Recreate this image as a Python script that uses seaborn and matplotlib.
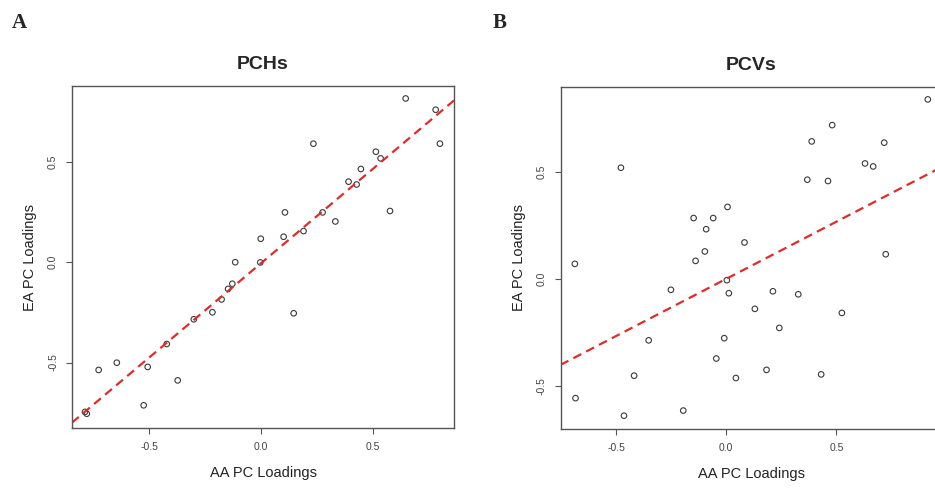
import matplotlib
matplotlib.use("Agg")
import matplotlib.pyplot as plt
import seaborn as sns
import pandas as pd

sns.set_style("ticks")
plt.rcParams['font.family'] = ['Liberation Sans', 'DejaVu Sans']

# PCHs loadings (AA vs EA)
pch_aa = [0.646, 0.780, 0.799, 0.234, 0.513, 0.534, 0.446, 0.391, 0.427, 0.107,
          0.275, 0.576, 0.332, 0.190, 0.101, -0.001, -0.003, -0.115, -0.128, -0.147,
          -0.176, -0.217, -0.300, -0.421, -0.644, -0.725, -0.506, -0.372, -0.524,
          -0.778, -0.786, 0.146]
pch_ea = [0.814, 0.758, 0.589, 0.589, 0.549, 0.516, 0.463, 0.400, 0.386, 0.247,
          0.247, 0.254, 0.202, 0.154, 0.126, 0.116, -0.002, -0.001, -0.108, -0.134,
          -0.186, -0.250, -0.285, -0.408, -0.501, -0.537, -0.522, -0.589, -0.713,
          -0.755, -0.746, -0.255]

# PCVs loadings (AA vs EA)
pcv_aa = [-0.478, -0.687, -0.148, -0.059, -0.091, 0.006, -0.097, -0.139, -0.251, 0.003,
          0.012, 0.915, 0.481, 0.388, 0.717, 0.630, 0.667, 0.368, 0.462, 0.083,
          0.724, 0.212, 0.327, -0.352, -0.009, -0.045, -0.418, 0.044, -0.684, -0.464,
          -0.195, 0.130, 0.525, 0.241, 0.183, 0.431]
pcv_ea = [0.519, 0.070, 0.284, 0.284, 0.232, 0.336, 0.128, 0.084, -0.051, -0.006,
          -0.067, 0.838, 0.718, 0.642, 0.636, 0.539, 0.525, 0.463, 0.457, 0.170,
          0.115, -0.058, -0.072, -0.287, -0.277, -0.372, -0.452, -0.463, -0.557, -0.639,
          -0.615, -0.140, -0.159, -0.229, -0.425, -0.446]

# fitted lines (slope, intercept)
pch_fit = (0.94, -0.006)
pcv_fit = (0.534, 0.0)

ticks = [-0.5, 0.0, 0.5]
tick_labels = ["-0.5", "0.0", "0.5"]

fig = plt.figure(figsize=(9.35, 4.91), dpi=100)
ax1 = fig.add_axes([0.077, 0.1283, 0.4086, 0.6965])
ax2 = fig.add_axes([0.5995, 0.1263, 0.4086, 0.6965])

panels = [
    (ax1, pch_aa, pch_ea, pch_fit, "PCHs", "A", (-0.844, 0.862), (-0.826, 0.876)),
    (ax2, pcv_aa, pcv_ea, pcv_fit, "PCVs", "B", (-0.752, 0.982), (-0.701, 0.896)),
]

for ax, xs, ys, fit, title, letter, xlim, ylim in panels:
    df = pd.DataFrame({"AA": xs, "EA": ys})
    sns.scatterplot(data=df, x="AA", y="EA", ax=ax, marker="o", s=16,
                    linewidth=0.8, edgecolor="#3a3a3a", legend=False)
    for coll in ax.collections:
        coll.set_facecolor("none")
    ax.set_xlim(*xlim)
    ax.set_ylim(*ylim)
    ax.axline((0, fit[1]), slope=fit[0], color="#e02b2b", linestyle=(0, (4, 2.5)),
              linewidth=1.6)
    for side in ["top", "right", "left", "bottom"]:
        ax.spines[side].set_visible(True)
        ax.spines[side].set_color("#555555")
        ax.spines[side].set_linewidth(1.0)
    ax.set_xticks(ticks)
    ax.set_xticklabels(tick_labels)
    ax.set_yticks(ticks)
    ax.set_yticklabels(tick_labels, rotation=90, va="center")
    ax.tick_params(axis="both", labelsize=7.5, length=4, width=0.8,
                   color="#555555", labelcolor="#444444", pad=6)
    ax.set_xlabel("AA PC Loadings", fontsize=10.5, labelpad=10, color="#222222")
    ax.set_ylabel("EA PC Loadings", fontsize=10.5, labelpad=8, color="#222222")
    ax.set_title(title, fontsize=14, fontweight="bold", pad=12)

fig.text(12 / 935, 1 - 28 / 491, "A", fontsize=15, fontweight="bold",
         family="Liberation Serif")
fig.text(493 / 935, 1 - 28 / 491, "B", fontsize=15, fontweight="bold",
         family="Liberation Serif")

fig.savefig("out.png", dpi=100)
